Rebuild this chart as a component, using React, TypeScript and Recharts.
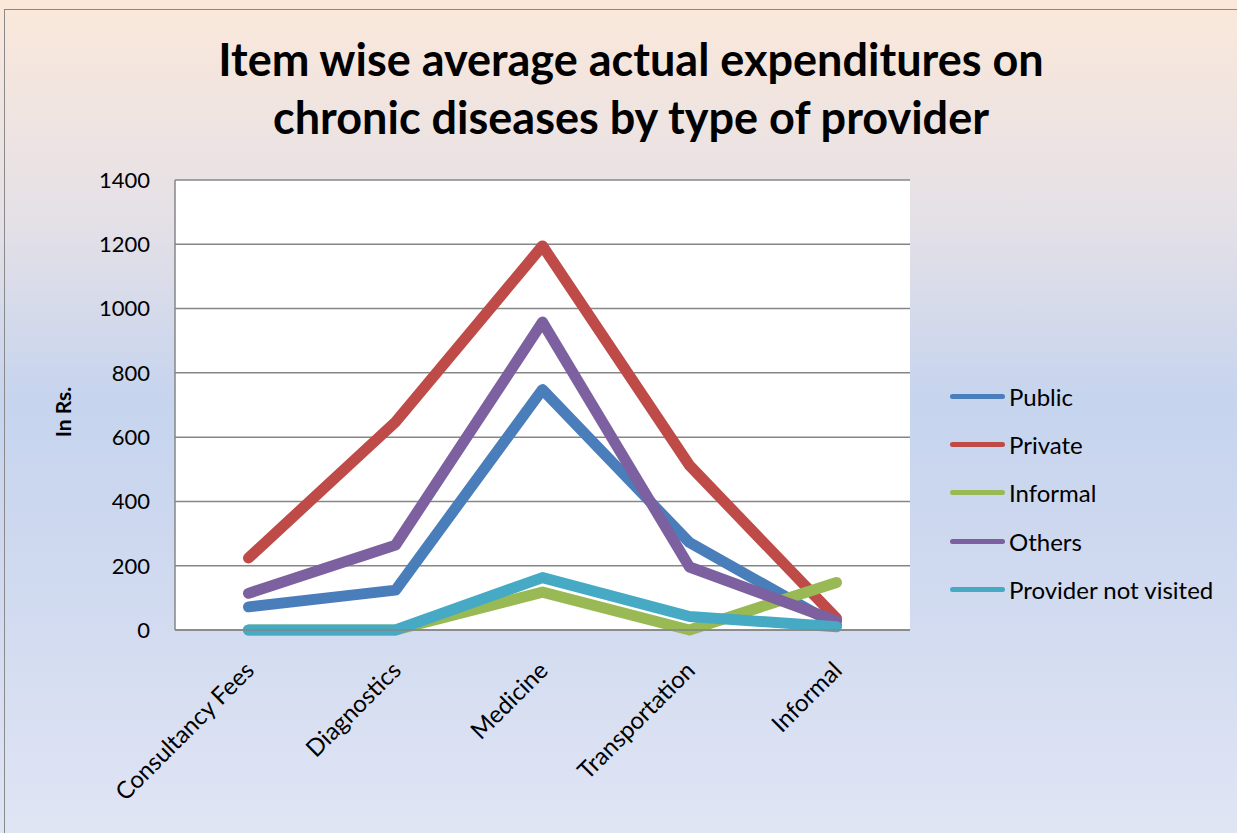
import { LineChart, Line, XAxis, YAxis, CartesianGrid } from "recharts";

const categories = ["Consultancy Fees", "Diagnostics", "Medicine", "Transportation", "Informal"];
const publicVals = [72, 124, 748, 272, 15];
const privateVals = [224, 647, 1195, 512, 36];
const informalVals = [0, 0, 118, 0, 148];
const othersVals = [114, 264, 958, 196, 28];
const notVisitedVals = [0, 0, 163, 42, 10];
const yTicks = [0, 200, 400, 600, 800, 1000, 1200, 1400];

const series = [
  { key: "public", name: "Public", color: "#4a7ebb", values: publicVals },
  { key: "private", name: "Private", color: "#be4b48", values: privateVals },
  { key: "informal", name: "Informal", color: "#98b954", values: informalVals },
  { key: "others", name: "Others", color: "#7d60a0", values: othersVals },
  { key: "notVisited", name: "Provider not visited", color: "#46aac5", values: notVisitedVals },
];

const data = categories.map((c, i) => {
  const row: Record<string, string | number> = { category: c };
  series.forEach((s) => (row[s.key] = s.values[i]));
  return row;
});

const FONT = "Lato, 'Open Sans', sans-serif";

function CatTick({ x, y, payload }: any) {
  const ax = x + 7;
  const ay = y + 34;
  return (
    <text
      x={ax}
      y={ay}
      transform={`rotate(-45 ${ax} ${ay})`}
      textAnchor="end"
      fontSize={24}
      fontFamily={FONT}
      fill="#000"
    >
      {payload.value}
    </text>
  );
}

export default function App() {
  return (
    <div
      style={{
        position: "absolute",
        left: 0,
        top: 0,
        width: 1237,
        height: 833,
        overflow: "hidden",
        background: "linear-gradient(to bottom, #fbe8da 0%, #e6e1e6 25%, #c6d4ee 48%, #d2dbf0 75%, #e0e5f4 100%)",
      }}
    >
      <div
        style={{
          position: "absolute",
          left: 4,
          top: 9,
          width: 1240,
          height: 830,
          border: "1.5px solid #8a8a8a",
        }}
      />
      <div
        style={{
          position: "absolute",
          left: 4,
          top: 30,
          width: 1254,
          textAlign: "center",
          fontFamily: FONT,
          fontWeight: 700,
          fontSize: 45,
          lineHeight: "58px",
          color: "#000",
        }}
      >
        Item wise average actual expenditures on
        <br />
        chronic diseases by type of provider
      </div>
      <div
        style={{
          position: "absolute",
          left: 62,
          top: 412,
          transform: "translate(-50%, -50%) rotate(-90deg)",
          fontFamily: FONT,
          fontWeight: 700,
          fontSize: 21,
          whiteSpace: "nowrap",
        }}
      >
        In Rs.
      </div>
      <div style={{ position: "absolute", left: 0, top: 0 }}>
        <LineChart
          width={1237}
          height={833}
          data={data}
          margin={{ top: 180, right: 327, left: 95, bottom: 0 }}
        >
          <CartesianGrid vertical={false} stroke="#868686" strokeWidth={1.5} fill="#ffffff" />
          <XAxis
            dataKey="category"
            height={203}
            padding={{ left: 73.5, right: 73.5 }}
            stroke="#868686"
            strokeWidth={1.5}
            tickLine={false}
            interval={0}
            tick={<CatTick />}
          />
          <YAxis
            width={80}
            domain={[0, 1400]}
            ticks={yTicks}
            stroke="#868686"
            strokeWidth={1.5}
            tickLine={false}
            tick={{ fontSize: 22, fill: "#000", fontFamily: FONT }}
            tickMargin={19}
          />
          {series.map((s) => (
            <Line
              key={s.key}
              type="linear"
              dataKey={s.key}
              name={s.name}
              stroke={s.color}
              strokeWidth={11}
              strokeLinecap="round"
              strokeLinejoin="round"
              dot={false}
              activeDot={false}
              isAnimationActive={false}
            />
          ))}
        </LineChart>
      </div>
      <div style={{ position: "absolute", left: 950, top: 372, fontFamily: FONT, fontSize: 24 }}>
        {series.map((s) => (
          <div key={s.key} style={{ display: "flex", alignItems: "center", height: 48.3 }}>
            <div style={{ width: 55, height: 5, borderRadius: 3, background: s.color, marginRight: 4 }} />
            <span>{s.name}</span>
          </div>
        ))}
      </div>
    </div>
  );
}
